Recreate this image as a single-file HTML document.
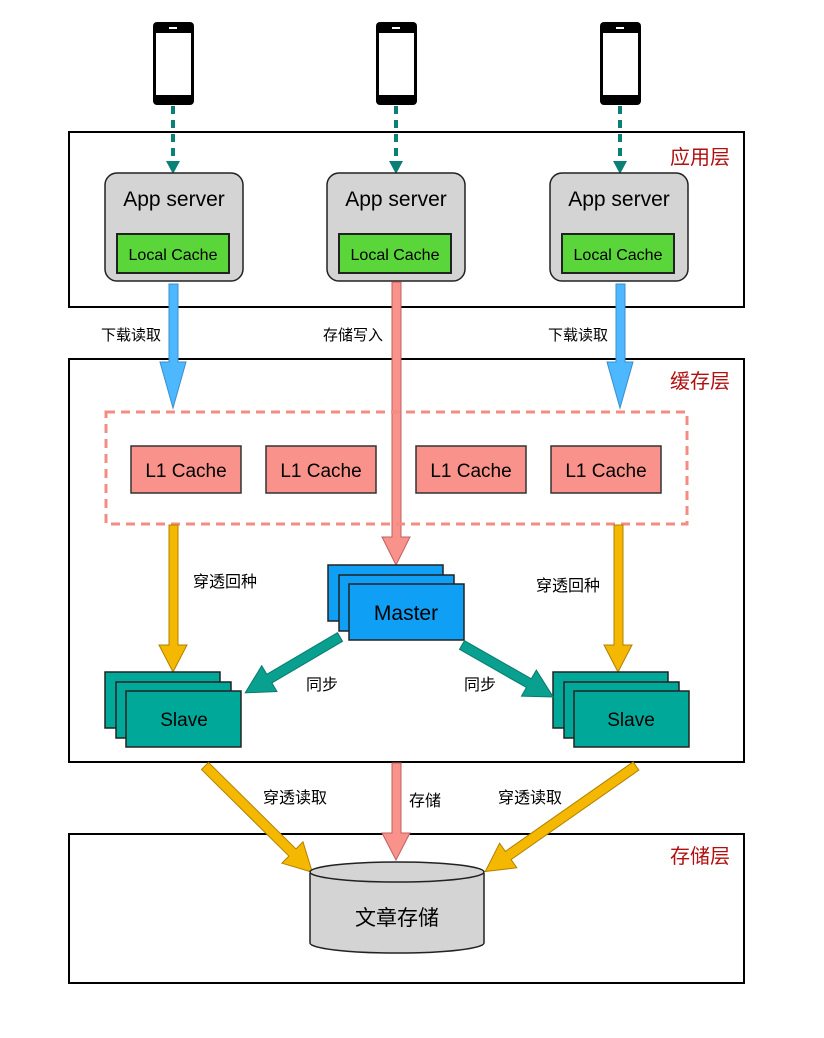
<!DOCTYPE html>
<html><head><meta charset="utf-8"><style>
html,body{margin:0;padding:0;background:#fff;}
svg{display:block}
text{font-family:"Liberation Sans","Noto Sans CJK SC",sans-serif;}
</style></head><body>
<svg width="824" height="1038" viewBox="0 0 824 1038" xmlns="http://www.w3.org/2000/svg">
<defs>
<g id="phone">
<rect x="-20" y="0" width="41" height="83" rx="4" fill="#000"/>
<rect x="-17" y="11" width="35" height="62" fill="#fff"/>
<rect x="-4" y="5" width="8" height="2" fill="#fff"/>
</g>
</defs>
<rect width="824" height="1038" fill="#fff"/>

<!-- layers -->
<rect x="69" y="132" width="675" height="175" fill="none" stroke="#000" stroke-width="2"/>
<rect x="69" y="359" width="675" height="403" fill="none" stroke="#000" stroke-width="2"/>
<rect x="69" y="834" width="675" height="149" fill="none" stroke="#000" stroke-width="2"/>
<text x="700" y="164" font-size="20" fill="#b01010" text-anchor="middle">应用层</text>
<text x="700" y="388" font-size="20" fill="#b01010" text-anchor="middle">缓存层</text>
<text x="700" y="863" font-size="20" fill="#b01010" text-anchor="middle">存储层</text>

<!-- phones -->
<use href="#phone" x="173" y="22"/>
<use href="#phone" x="396" y="22"/>
<use href="#phone" x="620" y="22"/>
<g stroke="#0a8077" stroke-width="4" stroke-dasharray="8,6">
<line x1="173" y1="106" x2="173" y2="160"/>
<line x1="396" y1="106" x2="396" y2="160"/>
<line x1="620" y1="106" x2="620" y2="160"/>
</g>
<g fill="#0a8077">
<polygon points="166,161 180,161 173,174"/>
<polygon points="389,161 403,161 396,174"/>
<polygon points="613,161 627,161 620,174"/>
</g>

<!-- app servers -->
<g stroke="#222" stroke-width="1.5">
<rect x="105" y="173" width="138" height="108" rx="12" fill="#d4d4d4"/>
<rect x="327" y="173" width="138" height="108" rx="12" fill="#d4d4d4"/>
<rect x="550" y="173" width="138" height="108" rx="12" fill="#d4d4d4"/>
</g>
<g stroke="#222" stroke-width="2" fill="#5ad63a">
<rect x="117" y="234" width="112" height="39"/>
<rect x="339" y="234" width="112" height="39"/>
<rect x="562" y="234" width="112" height="39"/>
</g>
<g font-size="21" text-anchor="middle" fill="#000">
<text x="174" y="206">App server</text>
<text x="396" y="206">App server</text>
<text x="619" y="206">App server</text>
</g>
<g font-size="16" text-anchor="middle" fill="#000">
<text x="173" y="260">Local Cache</text>
<text x="395" y="260">Local Cache</text>
<text x="618" y="260">Local Cache</text>
</g>

<!-- blue arrows -->
<g fill="#4db8ff" stroke="#3a8fcc" stroke-width="1">
<polygon points="169,284 178,284 178,362 186,362 173,408 160,362 169,362"/>
<polygon points="616,284 625,284 625,362 633,362 620,408 607,362 616,362"/>
</g>
<!-- red write arrow -->
<polygon points="392,282 401,282 401,537 410,537 396,565 382,537 392,537" fill="#f8928a" stroke="#c06060" stroke-width="1"/>
<g font-size="15" text-anchor="middle" fill="#000">
<text x="131" y="340">下载读取</text>
<text x="353" y="340">存储写入</text>
<text x="578" y="340">下载读取</text>
</g>

<!-- L1 region -->
<rect x="106" y="412" width="581" height="112" fill="none" stroke="#f48c84" stroke-width="3" stroke-dasharray="9,6"/>
<g fill="#f8928a" stroke="#333" stroke-width="1.5">
<rect x="131" y="446" width="110" height="47"/>
<rect x="266" y="446" width="110" height="47"/>
<rect x="416" y="446" width="110" height="47"/>
<rect x="551" y="446" width="110" height="47"/>
</g>
<g font-size="19" text-anchor="middle" fill="#000">
<text x="186" y="477">L1 Cache</text>
<text x="321" y="477">L1 Cache</text>
<text x="471" y="477">L1 Cache</text>
<text x="606" y="477">L1 Cache</text>
</g>

<!-- orange arrows -->
<g fill="#f5b800" stroke="#b08000" stroke-width="1">
<polygon points="169,525 178,525 178,645 187,645 173,672 159,645 169,645"/>
<polygon points="614,525 623,525 623,645 632,645 618,672 604,645 614,645"/>
</g>
<g font-size="16" text-anchor="middle" fill="#000">
<text x="225" y="587">穿透回种</text>
<text x="568" y="591">穿透回种</text>
</g>

<!-- master -->
<g fill="#0fa0f5" stroke="#222" stroke-width="1.5">
<rect x="328" y="565" width="115" height="56"/>
<rect x="339" y="575" width="115" height="56"/>
<rect x="349" y="584" width="115" height="56"/>
</g>
<text x="406" y="620" font-size="21" text-anchor="middle" fill="#000">Master</text>

<!-- slaves -->
<g fill="#00a89a" stroke="#222" stroke-width="1.5">
<rect x="105" y="672" width="115" height="56"/>
<rect x="116" y="682" width="115" height="56"/>
<rect x="126" y="691" width="115" height="56"/>
<rect x="553" y="672" width="115" height="56"/>
<rect x="564" y="682" width="115" height="56"/>
<rect x="574" y="691" width="115" height="56"/>
</g>
<g font-size="19" text-anchor="middle" fill="#000">
<text x="184" y="726">Slave</text>
<text x="631" y="726">Slave</text>
</g>

<!-- teal sync arrows -->
<g fill="#0aa08f" stroke="#087a6e" stroke-width="1">
<g transform="translate(340,637) rotate(149.5)"><polygon points="0,-5 82,-5 82,-15 110,0 82,15 82,5 0,5"/></g>
<g transform="translate(462,645) rotate(29.7)"><polygon points="0,-5 77,-5 77,-15 105,0 77,15 77,5 0,5"/></g>
</g>
<g font-size="16" text-anchor="middle" fill="#000">
<text x="322" y="690">同步</text>
<text x="480" y="690">同步</text>
</g>

<!-- storage arrows -->
<g fill="#f5b800" stroke="#b08000" stroke-width="1">
<g transform="translate(205,766) rotate(44.7)"><polygon points="0,-5 123,-5 123,-15 151,0 123,15 123,5 0,5"/></g>
<g transform="translate(636,766) rotate(145)"><polygon points="0,-5 156,-5 156,-15 184,0 156,15 156,5 0,5"/></g>
</g>
<polygon points="392,763 401,763 401,833 410,833 396,860 382,833 392,833" fill="#f8928a" stroke="#c06060" stroke-width="1"/>
<g font-size="16" text-anchor="middle" fill="#000">
<text x="295" y="803">穿透读取</text>
<text x="425" y="806">存储</text>
<text x="530" y="803">穿透读取</text>
</g>

<!-- cylinder -->
<path d="M310,873 L310,943 A87,10 0 0 0 484,943 L484,873" fill="#d4d4d4" stroke="#222" stroke-width="1.5"/>
<ellipse cx="397" cy="872" rx="87" ry="10" fill="#d4d4d4" stroke="#222" stroke-width="1.5"/>
<text x="397" y="925" font-size="21" text-anchor="middle" fill="#000">文章存储</text>
</svg>
</body></html>
